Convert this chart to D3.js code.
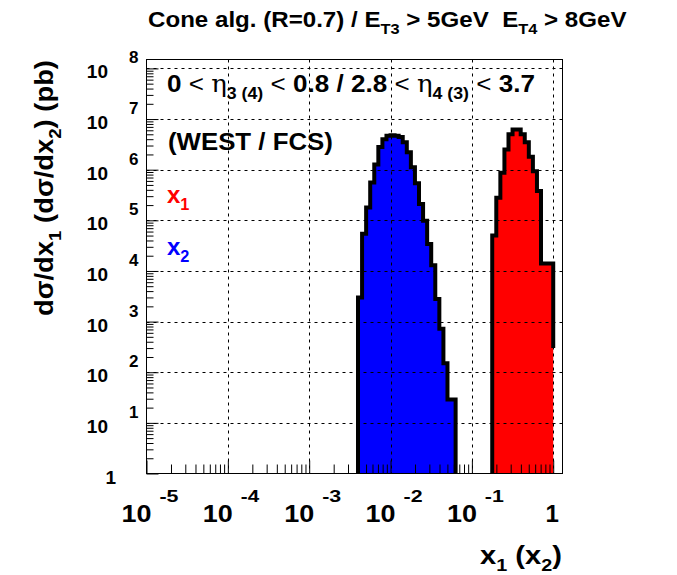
<!DOCTYPE html>
<html>
<head>
<meta charset="utf-8">
<script src="https://cdn.jsdelivr.net/npm/d3@7"></script>
<style>
  body { margin: 0; background: #fff; }
  text { font-family: "Liberation Sans", Arial, Helvetica, sans-serif; font-weight: bold; white-space: pre; }
</style>
</head>
<body>
<svg id="chart" width="677" height="575"></svg>
<script>
// axis ranges
const xDomain = [1e-5, 1.3];
const yDomain = [1, 1.5e8];

// x2 histogram (blue): log10(x) range and bin contents (pb)
const blueRange = [-2.4, -1.2];
const blueValues = [3.0e3, 5.4e4, 1.8e5, 5.6e5, 1.26e6, 2.8e6, 4.0e6, 4.7e6,
                    4.8e6, 4.7e6, 4.4e6, 3.5e6, 2.2e6, 1.12e6, 5.4e5, 2.1e5,
                    9.8e4, 3.4e4, 1.3e4, 2.8e3, 7.2e2, 1.5e2, 29, 29];

// x1 histogram (red)
const redRange = [-0.75, 0];
const redValues = [5.0e4, 2.8e5, 8.7e5, 2.5e6, 5.0e6, 6.2e6, 6.2e6, 5.0e6,
                   3.5e6, 1.8e6, 9.3e5, 3.8e5, 1.4e4, 1.4e4, 1.4e4];
const redOutlineEnd = 3e2; // black outline of red stops here on the right edge

const xLabelPowers = [-5, -4, -3, -2, -1, 0];
const yLabelPowers = [0, 1, 2, 3, 4, 5, 6, 7, 8];

const svg = d3.select("#chart");
const fLeft = 146.5, fRight = 562.5, fTop = 59.5, fBottom = 473.5;

const x = d3.scaleLog().domain(xDomain).range([fLeft, fRight]);
const y = d3.scaleLog().domain(yDomain).range([fBottom, fTop]);

svg.append("defs").append("clipPath").attr("id", "frame")
  .append("rect").attr("x", fLeft).attr("y", fTop)
  .attr("width", fRight - fLeft).attr("height", fBottom - fTop);

// histogram step points
function steps(range, values, endValue) {
  const n = values.length;
  const edges = d3.range(n + 1).map(i => 10 ** (range[0] + (range[1] - range[0]) * i / n));
  const yv = v => Math.min(y(Math.max(v, yDomain[0])), fBottom);
  const pts = [[x(edges[0]), fBottom]];
  values.forEach((v, i) => {
    pts.push([x(edges[i]), yv(v)]);
    pts.push([x(edges[i + 1]), yv(v)]);
  });
  pts.push([x(edges[n]), endValue ? yv(endValue) : fBottom]);
  return pts;
}
const line = d3.line();

const plot = svg.append("g").attr("clip-path", "url(#frame)");
[[blueRange, blueValues, "#0000ff", null], [redRange, redValues, "#ff0000", redOutlineEnd]]
  .forEach(([r, v, c, end]) => {
    plot.append("path").attr("d", line(steps(r, v)) + "Z").attr("fill", c);
    plot.append("path").attr("d", line(steps(r, v, end)))
      .attr("fill", "none").attr("stroke", "#000").attr("stroke-width", 4)
      .attr("stroke-linejoin", "miter");
  });

// grid
const grid = svg.append("g").attr("stroke", "#000").attr("stroke-width", 1)
  .attr("stroke-dasharray", "3,4");
xLabelPowers.slice(1).forEach(p => {
  const xx = Math.round(x(10 ** p)) + 0.5;
  grid.append("line").attr("x1", xx).attr("x2", xx).attr("y1", fTop).attr("y2", fBottom);
});
yLabelPowers.slice(1).forEach(p => {
  const yy = Math.round(y(10 ** p)) + 0.5;
  grid.append("line").attr("x1", fLeft).attr("x2", fRight).attr("y1", yy).attr("y2", yy);
});

// ticks
const minor = (lo, hi, dom) => {
  const out = [];
  for (let p = lo; p <= hi; p++) for (let k = 2; k <= 9; k++) {
    const v = k * 10 ** p;
    if (v > dom[0] && v < dom[1]) out.push(v);
  }
  return out;
};
const tickStyle = g => { g.select(".domain").remove(); g.selectAll("text").remove();
  g.selectAll("line").attr("stroke", "#000"); };

svg.append("g").attr("transform", `translate(${fLeft},0)`)
  .call(d3.axisLeft(y).tickValues(minor(0, 8, yDomain)).tickSize(-7)).call(tickStyle);
svg.append("g").attr("transform", `translate(${fLeft},0)`)
  .call(d3.axisLeft(y).tickValues(yLabelPowers.map(p => 10 ** p)).tickSize(-12)).call(tickStyle);
svg.append("g").attr("transform", `translate(0,${fBottom})`)
  .call(d3.axisBottom(x).tickValues(minor(-5, 0, xDomain)).tickSize(-9)).call(tickStyle);
svg.append("g").attr("transform", `translate(0,${fBottom})`)
  .call(d3.axisBottom(x).tickValues(xLabelPowers.map(p => 10 ** p)).tickSize(-13)).call(tickStyle);

svg.append("rect").attr("x", fLeft).attr("y", fTop).attr("width", fRight - fLeft)
  .attr("height", fBottom - fTop).attr("fill", "none").attr("stroke", "#000");

// stretch a text horizontally to a given width, keeping its anchor point fixed
function fit(t, width, ax, prefix = "") {
  const w = t.node().getBBox().width;
  t.attr("transform", `${prefix} translate(${ax},0) scale(${width / w},1) translate(${-ax},0)`);
  return t;
}

// tick labels
yLabelPowers.forEach(p => {
  const yy = y(10 ** p);
  if (p === 0) {
    svg.append("text").attr("x", 116).attr("y", yy + 10).attr("text-anchor", "end")
      .attr("font-size", 19).text("1");
    return;
  }
  svg.append("text").attr("x", 108).attr("y", yy + 10).attr("text-anchor", "end")
    .attr("font-size", 19).text("10");
  svg.append("text").attr("x", 129).attr("y", yy - 5).attr("font-size", 17).text(p);
});
xLabelPowers.forEach(p => {
  const xx = x(10 ** p);
  if (p === 0) {
    svg.append("text").attr("x", xx - 1).attr("y", 522).attr("text-anchor", "middle")
      .attr("font-size", 24).text("1");
    return;
  }
  const t = svg.append("text").attr("x", xx + 5).attr("y", 522).attr("text-anchor", "end")
    .attr("font-size", 24).text("10");
  fit(t, 30, xx + 5);
  const e = svg.append("text").attr("x", xx + 13).attr("y", 502).attr("font-size", 17).text("-" + (-p));
  fit(e, 19, xx + 13);
});

// rich text helper
function rich(x0, y0, size, parts, attrs = {}) {
  const t = svg.append("text").attr("x", x0).attr("y", y0).attr("font-size", size);
  Object.entries(attrs).forEach(([k, v]) => t.attr(k, v));
  let shift = 0;
  parts.forEach(p => {
    const s = t.append("tspan").text(p.t);
    const want = p.sub ? size * 0.3 : 0;
    if (want !== shift) { s.attr("dy", want - shift); shift = want; }
    if (p.sub) s.attr("font-size", size * 0.68);
    if (p.w) s.attr("font-weight", p.w);
    if (p.f) s.attr("font-family", p.f);
    if (p.c) s.attr("fill", p.c);
  });
  return t;
}

fit(rich(148, 27, 22, [
  { t: "Cone alg. (R=0.7) / E" }, { t: "T3", sub: true }, { t: " > 5GeV  E" },
  { t: "T4", sub: true }, { t: " > 8GeV" }
]), 479, 148);

const eta = { t: "η", w: "normal", f: "DejaVu Serif, serif" };
const lt = { t: "<", w: "normal" };
fit(rich(167, 92, 24, [
  { t: "0 " }, lt, { t: " " }, eta, { t: "3 (4)", sub: true }, { t: " " }, lt,
  { t: " 0.8 / 2.8 " }, lt, { t: " " }, eta, { t: "4 (3)", sub: true }, { t: " " }, lt,
  { t: " 3.7" }
]), 368, 167);
fit(rich(168, 150, 23, [{ t: "(WEST / FCS)" }]), 165, 168);
rich(167, 203, 24, [{ t: "x" }, { t: "1", sub: true }], { fill: "#ff0000" });
rich(167, 255, 24, [{ t: "x" }, { t: "2", sub: true }], { fill: "#0000ff" });

// axis titles
fit(rich(562, 564, 25, [{ t: "x" }, { t: "1", sub: true }, { t: " (x" }, { t: "2", sub: true }, { t: ")" }],
  { "text-anchor": "end" }), 82, 562);
fit(rich(0, 0, 25, [
  { t: "dσ/dx" }, { t: "1", sub: true }, { t: " (dσ/dx" }, { t: "2", sub: true }, { t: ") (pb)" }
], { "text-anchor": "end" }), 256, 0, "translate(53,60) rotate(-90)");
</script>
</body>
</html>
